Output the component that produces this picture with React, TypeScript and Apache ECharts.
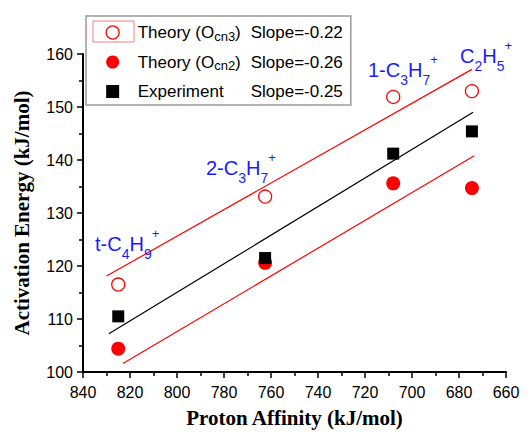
import React, { useEffect, useRef } from "react";
import * as echarts from "echarts";

// Proton affinity (x) for each cation
const protonAffinity = [825, 762.5, 708, 674.5];
const theoryCn3 = [116.5, 133.1, 151.9, 153.0];
const theoryCn2 = [104.4, 120.6, 135.6, 134.7];
const experiment = [110.5, 121.5, 141.2, 145.4];

// Linear fit end points
const fitCn3X = [830, 674.5];
const fitCn3Y = [118.1, 157.1];
const fitExpX = [829, 674];
const fitExpY = [107.2, 149.0];
const fitCn2X = [823, 673.5];
const fitCn2Y = [101.6, 140.8];

const seriesNames = ["Theory (Ocn3)", "Theory (Ocn2)", "Experiment"];
const slopes = ["-0.22", "-0.26", "-0.25"];

// cation labels: [main, sub, main, sub, sup]
const cationLabels = [
  ["t-C", "4", "H", "9", "+"],
  ["2-C", "3", "H", "7", "+"],
  ["1-C", "3", "H", "7", "+"],
  ["C", "2", "H", "5", "+"],
];

const SANS = '"Liberation Sans", Arial, Helvetica, sans-serif';
const SERIF = '"Liberation Serif", "Times New Roman", Times, serif';

function measure(text: string, size: number): number {
  const c = document.createElement("canvas");
  const ctx = c.getContext("2d");
  if (!ctx) return text.length * size * 0.55;
  ctx.font = `${size}px ${SANS}`;
  return ctx.measureText(text).width;
}

export default function App() {
  const ref = useRef<HTMLDivElement>(null);

  useEffect(() => {
    if (!ref.current) return;
    const chart = echarts.init(ref.current, null, { renderer: "svg" });

    const colW = 113;
    const wA = measure("Theory (O", 17);
    const wS = measure("cn3", 13);
    const pW = Math.max(8, colW - wA - wS);

    const legendText = (name: string) => {
      const i = seriesNames.indexOf(name);
      if (i < 2) {
        const sub = i === 0 ? "cn3" : "cn2";
        return `{g| }{a|Theory (O}{s|${sub}}{p|)}{a|Slope=${slopes[i]}}`;
      }
      return `{g| }{e|Experiment}{a|Slope=${slopes[i]}}`;
    };

    const labelPos = [
      [95, 244],
      [206, 167.5],
      [368, 70],
      [460, 56],
    ];

    const pair = (xs: number[], ys: number[]) => xs.map((x, i) => [x, ys[i]]);

    const tickLine = { color: "#000", width: 1.5 };

    chart.setOption({
      animation: false,
      grid: { left: 83, right: 25, top: 54, bottom: 64, containLabel: false },
      xAxis: {
        type: "value",
        inverse: true,
        min: 660,
        max: 840,
        interval: 20,
        axisLine: { show: true, onZero: false, lineStyle: { color: "#000", width: 2 } },
        axisTick: { show: true, inside: false, length: 6, lineStyle: tickLine },
        minorTick: { show: true, splitNumber: 2, length: 4, lineStyle: tickLine },
        splitLine: { show: false },
        axisLabel: { fontSize: 16, color: "#000", margin: 12, fontFamily: SANS },
        name: "Proton Affinity (kJ/mol)",
        nameLocation: "middle",
        nameGap: 35,
        nameTextStyle: { fontFamily: SERIF, fontWeight: "bold", fontSize: 21, color: "#000" },
      },
      yAxis: {
        type: "value",
        min: 100,
        max: 160,
        interval: 10,
        axisLine: { show: true, onZero: false, lineStyle: { color: "#000", width: 2 } },
        axisTick: { show: true, inside: false, length: 6, lineStyle: tickLine },
        minorTick: { show: true, splitNumber: 2, length: 4, lineStyle: tickLine },
        splitLine: { show: false },
        axisLabel: { fontSize: 16, color: "#000", margin: 10, fontFamily: SANS },
        name: "Activation Energy (kJ/mol)",
        nameLocation: "middle",
        nameGap: 51,
        nameTextStyle: { fontFamily: SERIF, fontWeight: "bold", fontSize: 21, color: "#000" },
      },
      legend: {
        show: true,
        orient: "vertical",
        left: 86,
        top: 16,
        padding: [8, 8, 5, 19.5],
        itemGap: 11,
        itemWidth: 13,
        itemHeight: 13,
        selectedMode: false,
        borderColor: "#999",
        borderWidth: 1.5,
        backgroundColor: "#fff",
        formatter: legendText,
        textStyle: {
          color: "#000",
          fontFamily: SANS,
          fontSize: 17,
          rich: {
            g: { fontSize: 17, lineHeight: 20, verticalAlign: "middle", fontFamily: SANS, width: 13.5 },
            a: { fontSize: 17, lineHeight: 20, verticalAlign: "middle", fontFamily: SANS, color: "#000" },
            e: { fontSize: 17, lineHeight: 20, verticalAlign: "middle", fontFamily: SANS, color: "#000", width: colW },
            p: { fontSize: 17, lineHeight: 20, verticalAlign: "middle", fontFamily: SANS, color: "#000", width: pW },
            s: { fontSize: 13, lineHeight: 5, verticalAlign: "bottom", fontFamily: SANS, color: "#000" },
          },
        },
        data: [
          { name: seriesNames[0], icon: "circle", itemStyle: { color: "transparent", borderColor: "#ff0000", borderWidth: 1.3 } },
          { name: seriesNames[1], icon: "circle", itemStyle: { color: "#ff0000" } },
          { name: seriesNames[2], icon: "rect", itemStyle: { color: "#000" } },
        ],
      },
      graphic: [
        {
          type: "rect",
          z: 100,
          silent: true,
          shape: { x: 93, y: 21, width: 41, height: 21 },
          style: { fill: "none", stroke: "#f08080", lineWidth: 1 },
        },
        ...cationLabels.map((p, i) => ({
          type: "text",
          z: 50,
          silent: true,
          x: labelPos[i][0],
          y: labelPos[i][1],
          style: {
            text: `{m|${p[0]}}{b|${p[1]}}{m|${p[2]}}{b|${p[3]}}{t|${p[4]}}`,
            verticalAlign: "middle",
            align: "left",
            rich: {
              m: { fontSize: 20, lineHeight: 34, verticalAlign: "middle", fontFamily: SANS, fill: "#1a1aff" },
              b: { fontSize: 14, lineHeight: 14, verticalAlign: "bottom", fontFamily: SANS, fill: "#1a1aff" },
              t: { fontSize: 13, lineHeight: 14, verticalAlign: "top", fontFamily: SANS, fill: "#1a1aff" },
            },
          },
        })),
      ],
      series: [
        {
          type: "line",
          data: pair(fitCn3X, fitCn3Y),
          symbol: "none",
          silent: true,
          lineStyle: { color: "#ff0000", width: 1.2 },
          z: 1,
        },
        {
          type: "line",
          data: pair(fitExpX, fitExpY),
          symbol: "none",
          silent: true,
          lineStyle: { color: "#000", width: 1.2 },
          z: 1,
        },
        {
          type: "line",
          data: pair(fitCn2X, fitCn2Y),
          symbol: "none",
          silent: true,
          lineStyle: { color: "#ff0000", width: 1.2 },
          z: 1,
        },
        {
          name: seriesNames[0],
          type: "scatter",
          data: pair(protonAffinity, theoryCn3),
          symbol: "circle",
          symbolSize: 13,
          itemStyle: { color: "transparent", borderColor: "#ff0000", borderWidth: 1.3, opacity: 1 },
          z: 3,
        },
        {
          name: seriesNames[1],
          type: "scatter",
          data: pair(protonAffinity, theoryCn2),
          symbol: "circle",
          symbolSize: 14,
          itemStyle: { color: "#ff0000", opacity: 1 },
          z: 3,
        },
        {
          name: seriesNames[2],
          type: "scatter",
          data: pair(protonAffinity, experiment),
          symbol: "rect",
          symbolSize: 12,
          itemStyle: { color: "#000", opacity: 1 },
          z: 4,
        },
      ],
    });

    return () => chart.dispose();
  }, []);

  return (
    <div
      ref={ref}
      style={{ position: "fixed", left: 0, top: 0, width: 531, height: 436, background: "#fff" }}
    />
  );
}
